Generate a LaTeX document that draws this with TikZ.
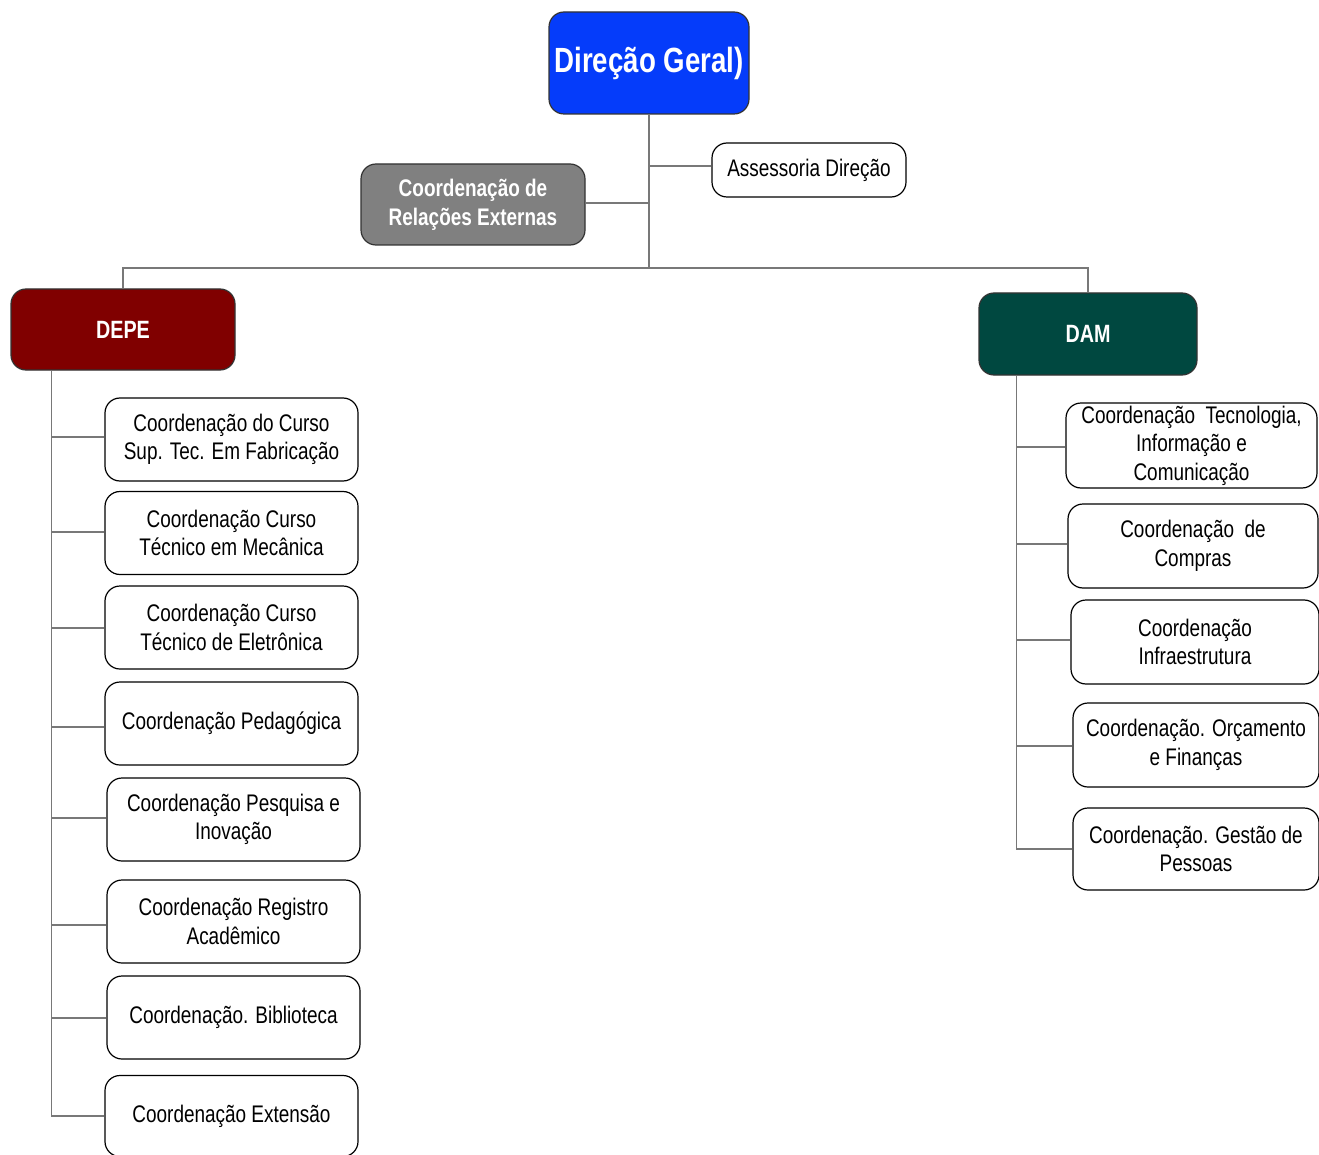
\documentclass[tikz,border=0pt]{standalone}
\usepackage{fontspec}
\setmainfont[FakeStretch=0.79]{Liberation Sans}
\definecolor{dgblue}{RGB}{5,60,250}
\definecolor{cregray}{RGB}{128,128,128}
\definecolor{depered}{RGB}{128,0,0}
\definecolor{damteal}{RGB}{0,72,64}
\definecolor{conncol}{RGB}{120,120,120}
\tikzset{
  box/.style={draw=black, line width=1.2pt, rounded corners=15pt, fill=white, inner sep=0pt,
    align=center, font=\fontsize{24}{28.5}\selectfont},
  hbox/.style={box, text=white, font=\bfseries\fontsize{25}{29}\selectfont},
  kid/.style={box, minimum width=253pt, minimum height=83pt},
  conn/.style={draw=conncol, line width=1.3pt}
}
\begin{document}
\begin{tikzpicture}[x=1pt,y=-1pt]
\useasboundingbox (0,0) rectangle (1319,1155);
% top level
\node[hbox, fill=dgblue, draw=black!80, minimum width=200pt, minimum height=102pt,
  font=\bfseries\fontsize{35}{39}\selectfont] (dg) at (649,63) {\raisebox{-3pt}{Direção Geral)}};
\node[box, minimum width=194pt, minimum height=54pt] (as) at (809,170) {Assessoria Direção};
\node[hbox, fill=cregray, draw=black!80, minimum width=224pt, minimum height=81pt,
  font=\bfseries\fontsize{24}{29}\selectfont] (cre) at (473,204.5) {Coordenação de\\Relações Externas};
\node[hbox, fill=depered, draw=black!80, minimum width=224pt, minimum height=81pt] (depe) at (123,329.5) {DEPE};
\node[hbox, fill=damteal, draw=black!80, minimum width=218pt, minimum height=82pt] (dam) at (1088,334) {DAM};
% DEPE children
\node[kid] (d1) at (231.5,439.5) {Coordenação do Curso\\Sup. Tec. Em Fabricação};
\node[kid] (d2) at (231.5,533) {Coordenação Curso\\Técnico em Mecânica};
\node[kid] (d3) at (231.5,627.5) {Coordenação Curso\\Técnico de Eletrônica};
\node[kid] (d4) at (231.5,723.5) {Coordenação Pedagógica};
\node[kid] (d5) at (233.5,819.5) {Coordenação Pesquisa e\\Inovação};
\node[kid] (d6) at (233.5,921.5) {Coordenação Registro\\Acadêmico};
\node[kid] (d7) at (233.5,1017.5) {Coordenação. Biblioteca};
\node[kid, minimum height=81pt] (d8) at (231.5,1116) {Coordenação Extensão};
% DAM children
\node[kid, minimum width=251pt, minimum height=85pt] (m1) at (1191.5,445.5) {Coordenação\ \ Tecnologia,\\Informação e\\Comunicação};
\node[kid, minimum width=250pt, minimum height=84pt] (m2) at (1193,546) {Coordenação\ \ de\\Compras};
\node[kid, minimum width=248pt, minimum height=84pt] (m3) at (1195,642) {Coordenação\\Infraestrutura};
\node[kid, minimum width=246pt, minimum height=84pt] (m4) at (1196,745) {Coordenação. Orçamento\\e Finanças};
\node[kid, minimum width=246pt, minimum height=82pt] (m5) at (1196,849) {Coordenação. Gestão de\\Pessoas};
% connectors top
\coordinate (bus) at (0,268);
\draw[conn] (dg.south) -- (dg.south |- bus);
\draw[conn] (as.west |- 0,166) -- (dg.south |- 0,166);
\draw[conn] (cre.east |- 0,203) -- (dg.south |- 0,203);
\draw[conn] (depe.north) |- (bus -| dam.north) -- (dam.north);
% DEPE trunk
\coordinate (dt) at ([xshift=41pt]depe.south west);
\draw[conn] (dt) |- (d8.west);
\foreach \n/\y in {d1/437,d2/532,d3/628,d4/727,d5/818,d6/925,d7/1018}{
  \draw[conn] (dt |- 0,\y) -- (\n.west |- 0,\y);
}
% DAM trunk
\coordinate (mt) at ([xshift=38pt]dam.south west);
\draw[conn] (mt) |- (m5.west);
\foreach \n/\y in {m1/447,m2/544,m3/640,m4/746}{
  \draw[conn] (mt |- 0,\y) -- (\n.west |- 0,\y);
}
\end{tikzpicture}
\end{document}
